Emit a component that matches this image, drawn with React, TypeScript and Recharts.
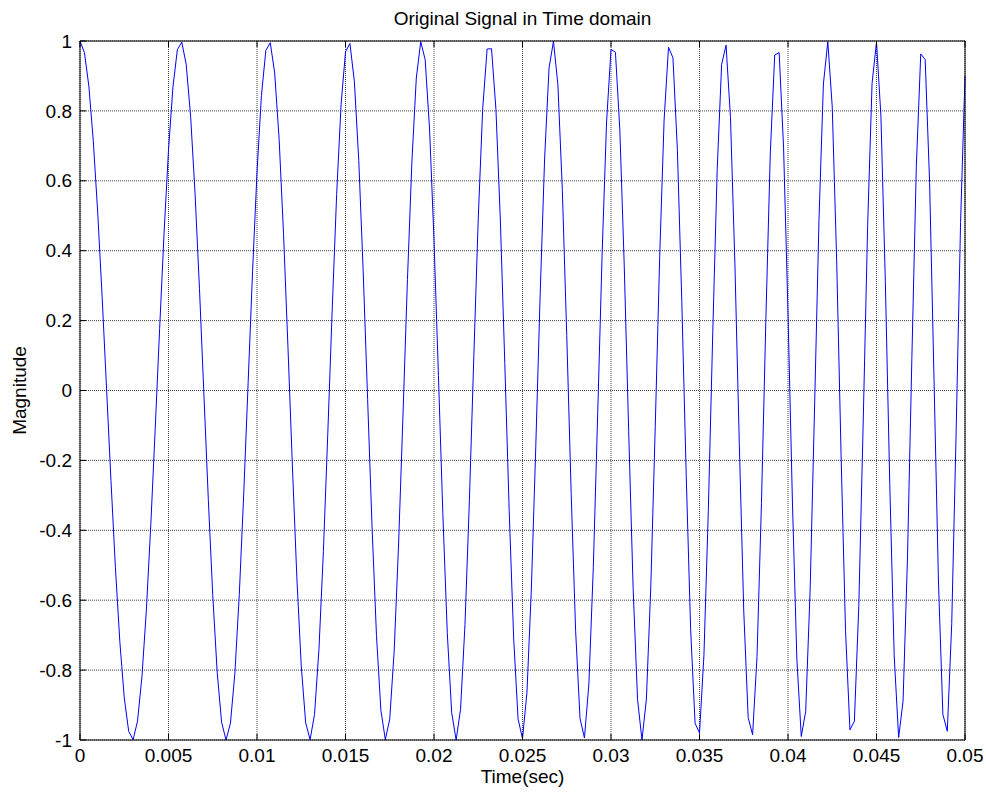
import React from 'react';
import { LineChart, Line, XAxis, YAxis, CartesianGrid, Label } from 'recharts';

// sample spacing of the recorded signal, in seconds
const SAMPLE_PERIOD = 0.00025;

const magnitude = [
  1, 0.967, 0.871, 0.715, 0.51, 0.268, 0.006, -0.258, -0.506, -0.718,
  -0.879, -0.975, -0.999, -0.946, -0.819, -0.627, -0.384, -0.108, 0.178, 0.451,
  0.688, 0.868, 0.975, 0.997, 0.933, 0.784, 0.564, 0.291, -0.01, -0.312,
  -0.586, -0.806, -0.949, -1, -0.952, -0.809, -0.583, -0.296, 0.023, 0.341,
  0.625, 0.844, 0.973, 0.995, 0.908, 0.719, 0.447, 0.123, -0.216, -0.533,
  -0.788, -0.951, -0.999, -0.927, -0.741, -0.461, -0.122, 0.233, 0.561, 0.818,
  0.969, 0.993, 0.885, 0.658, 0.34, -0.026, -0.39, -0.701, -0.915, -0.999,
  -0.94, -0.745, -0.439, -0.067, 0.317, 0.654, 0.894, 0.998, 0.947, 0.748,
  0.431, 0.043, -0.353, -0.693, -0.922, -1, -0.912, -0.67, -0.314, 0.097,
  0.493, 0.805, 0.977, 0.978, 0.804, 0.485, 0.077, -0.347, -0.708, -0.94,
  -0.996, -0.865, -0.568, -0.161, 0.278, 0.665, 0.923, 0.999, 0.875, 0.575,
  0.157, -0.294, -0.686, -0.938, -0.994, -0.84, -0.507, -0.064, 0.394, 0.768,
  0.976, 0.968, 0.745, 0.354, -0.118, -0.566, -0.884, -1, -0.883, -0.559,
  -0.102, 0.381, 0.774, 0.982, 0.952, 0.689, 0.255, -0.244, -0.684, -0.952,
  -0.98, -0.758, -0.341, 0.167, 0.632, 0.933, 0.988, 0.781, 0.363, -0.154,
  -0.631, -0.936, -0.985, -0.761, -0.324, 0.205, 0.679, 0.96, 0.967, 0.696,
  0.221, -0.319, -0.768, -0.99, -0.918, -0.571, -0.05, 0.487, 0.877, 0.998,
  0.811, 0.371, -0.187, -0.687, -0.971, -0.946, -0.616, -0.087, 0.472, 0.879,
  0.997, 0.785, 0.311, -0.268, -0.759, -0.993, -0.889, -0.479, 0.097, 0.641,
  0.963, 0.947, 0.596, 0.032, -0.545, -0.927, -0.975, -0.667, -0.116, 0.481,
  0.9,
];

const xTicks = [0, 0.005, 0.01, 0.015, 0.02, 0.025, 0.03, 0.035, 0.04, 0.045, 0.05];
const yTicks = [-1, -0.8, -0.6, -0.4, -0.2, 0, 0.2, 0.4, 0.6, 0.8, 1];

const data = magnitude.map((v, i) => ({ t: i * SAMPLE_PERIOD, v }));

const FONT = '"Liberation Sans", Arial, Helvetica, sans-serif';
const FS = 19;
const TICK = 6;

const fmt = (v: number) => String(Number(v.toFixed(3)));

const BottomTick = ({ x, y, payload }: any) => (
  <g>
    <line x1={x} x2={x} y1={y} y2={y - TICK} stroke="#000" />
    <text x={x} y={y + 22} textAnchor="middle" fontFamily={FONT} fontSize={FS} fill="#000">
      {fmt(payload.value)}
    </text>
  </g>
);

const TopTick = ({ x, y }: any) => <line x1={x} x2={x} y1={y} y2={y + TICK} stroke="#000" />;

const LeftTick = ({ x, y, payload }: any) => (
  <g>
    <line x1={x} x2={x + TICK} y1={y} y2={y} stroke="#000" />
    <text x={x - 8} y={y} dy="0.35em" textAnchor="end" fontFamily={FONT} fontSize={FS} fill="#000">
      {fmt(payload.value)}
    </text>
  </g>
);

const RightTick = ({ x, y }: any) => <line x1={x} x2={x - TICK} y1={y} y2={y} stroke="#000" />;

const YTitle = ({ viewBox }: any) => {
  const cx = 19;
  const cy = viewBox.y + viewBox.height / 2;
  return (
    <text
      x={cx}
      y={cy}
      transform={`rotate(-90 ${cx} ${cy})`}
      textAnchor="middle"
      dominantBaseline="central"
      fontFamily={FONT}
      fontSize={FS}
      fill="#000"
    >
      Magnitude
    </text>
  );
};

const XTitle = ({ viewBox }: any) => (
  <text
    x={viewBox.x + viewBox.width / 2}
    y={783}
    textAnchor="middle"
    fontFamily={FONT}
    fontSize={FS}
    fill="#000"
  >
    Time(sec)
  </text>
);

const Title = ({ viewBox }: any) => (
  <text
    x={viewBox.x + viewBox.width / 2}
    y={25}
    textAnchor="middle"
    fontFamily={FONT}
    fontSize={FS}
    fill="#000"
  >
    Original Signal in Time domain
  </text>
);

export default function App() {
  return (
    <div style={{ position: 'absolute', left: 0, top: 0, background: '#fff' }}>
      <LineChart width={986} height={794} data={data} margin={{ top: 40, right: 20, bottom: 0, left: 0 }}>
        <CartesianGrid stroke="#444" strokeDasharray="1 1" />
        <XAxis
          dataKey="t"
          type="number"
          domain={[0, 0.05]}
          ticks={xTicks}
          height={54}
          tickSize={0}
          tickMargin={0}
          tickLine={false}
          axisLine={{ stroke: '#000' }}
          tick={<BottomTick />}
          interval={0}
        >
          <Label content={<XTitle />} />
        </XAxis>
        <XAxis
          xAxisId="top"
          orientation="top"
          dataKey="t"
          type="number"
          domain={[0, 0.05]}
          ticks={xTicks}
          height={1}
          tickSize={0}
          tickMargin={0}
          tickLine={false}
          axisLine={{ stroke: '#000' }}
          tick={<TopTick />}
          interval={0}
        >
          <Label content={<Title />} />
        </XAxis>
        <YAxis
          type="number"
          domain={[-1, 1]}
          ticks={yTicks}
          width={80}
          tickSize={0}
          tickMargin={0}
          tickLine={false}
          axisLine={{ stroke: '#000' }}
          tick={<LeftTick />}
          interval={0}
        >
          <Label content={<YTitle />} />
        </YAxis>
        <YAxis
          yAxisId="right"
          orientation="right"
          type="number"
          domain={[-1, 1]}
          ticks={yTicks}
          width={1}
          tickSize={0}
          tickMargin={0}
          tickLine={false}
          axisLine={{ stroke: '#000' }}
          tick={<RightTick />}
          interval={0}
        />
        <Line
          type="linear"
          dataKey="v"
          stroke="#0000ff"
          strokeWidth={1}
          dot={false}
          isAnimationActive={false}
        />
      </LineChart>
    </div>
  );
}
